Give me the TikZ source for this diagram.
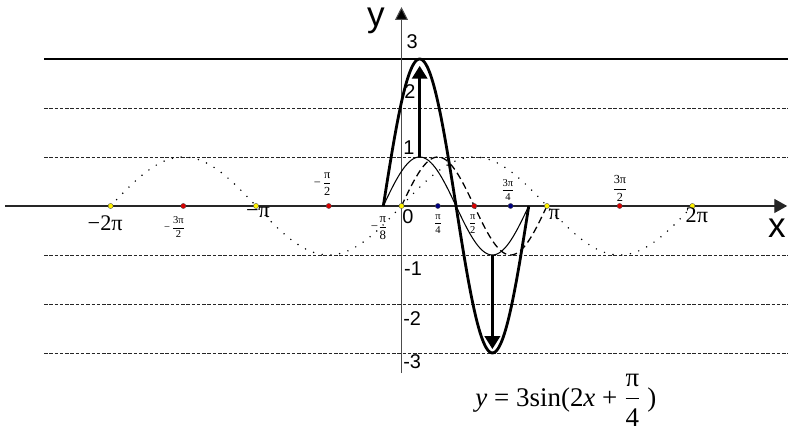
\documentclass[tikz,border=0pt]{standalone}
\usepackage{amsmath}
\usepackage{fontspec}
\setmainfont{Liberation Serif}
\newfontfamily\arial{Liberation Sans}
\usetikzlibrary{arrows.meta}

\newcommand{\pfrac}[2]{$\dfrac{\text{#1}}{\text{#2}}$}

\begin{document}
\begin{tikzpicture}[x=1.389cm,y=1.47cm,
    gridline/.style={line width=0.75pt,dash pattern=on 3pt off 1.5pt,black!85},
    numlabel/.style={font=\arial\fontsize{17}{17}\selectfont,inner sep=0pt},
    pilabel/.style={font=\fontsize{19}{19}\selectfont,inner sep=0pt},
    smallfrac/.style={font=\fontsize{9}{9}\selectfont,inner sep=0pt},
    tickdot/.style={draw=black!70,line width=0.3pt,fill=#1}]
    \useasboundingbox (-8.672,-4.633) rectangle (8.348,4.204);
    % horizontal lines
    \draw[line width=0.9pt] (-7.72,3) -- (8.348,3);
    \draw[gridline] (-7.72,2) -- (8.348,2);
    \draw[gridline] (-7.72,1) -- (8.348,1);
    \draw[gridline] (-7.72,-1) -- (8.348,-1);
    \draw[gridline] (-7.72,-2) -- (8.348,-2);
    \draw[gridline] (-7.72,-3) -- (8.348,-3);
    % axes
    \draw[line width=1pt,black!85,-{Triangle[length=11pt,width=12pt]}] (-8.56,0) -- (8.33,0);
    \draw[line width=0.9pt,black!70,-{Triangle[length=11pt,width=11pt,fill=black]}] (0,-3.41) -- (0,4.06);
    \node[font=\arial\fontsize{30}{30}\selectfont,inner sep=0pt] (xlab) at (8.11,-0.45) {x};
    \node[font=\arial\fontsize{30}{30}\selectfont,inner sep=0pt,text height=0.55em,text depth=0.2em,anchor=base] (ylab) at (-0.55,3.66) {y};
    \node[numlabel] (n3) at (0.23,3.35) {3};
    \node[numlabel] (n2) at (0.18,2.33) {2};
    \node[numlabel] (n1) at (0.16,1.20) {1};
    \node[numlabel] (n0) at (0.14,-0.22) {0};
    \node[numlabel] (m1) at (0.25,-1.27) {-1};
    \node[numlabel] (m2) at (0.23,-2.29) {-2};
    \node[numlabel] (m3) at (0.23,-3.18) {-3};
    % curves
    \draw[line width=1.4pt,line cap=round,dash pattern=on 0pt off 7.5pt,domain=-2*pi:2*pi,samples=200,smooth]
        plot (\x,{sin(\x r)});
    \draw[line width=1.1pt,dash pattern=on 6pt off 3.5pt,domain=0:pi,samples=100,smooth]
        plot (\x,{sin(2*\x r)});
    \draw[line width=0.9pt,domain=-pi/8:7*pi/8,samples=100,smooth]
        plot (\x,{sin((2*\x+pi/4) r)});
    \draw[line width=2.4pt,domain=-pi/8:7*pi/8,samples=100,smooth]
        plot (\x,{3*sin((2*\x+pi/4) r)});
    % stretching arrows
    \coordinate (top1) at ({pi/8},1);
    \coordinate (top3) at ({pi/8},2.86);
    \coordinate (bot1) at ({5*pi/8},-1);
    \coordinate (bot3) at ({5*pi/8},-2.92);
    \draw[line width=2.4pt,-{Triangle[length=11pt,width=13pt]}] (top1) -- (top3);
    \draw[line width=2.4pt,-{Triangle[length=11pt,width=13pt]}] (bot1) -- (bot3);
    % points on the x axis
    \draw[tickdot=yellow] (-2*pi,0) circle (2.2pt);
    \draw[tickdot=yellow] (-pi,0) circle (2.2pt);
    \draw[tickdot=yellow] (0,0) circle (2.2pt);
    \draw[tickdot=yellow] (pi,0) circle (2.2pt);
    \draw[tickdot=yellow] (2*pi,0) circle (2.2pt);
    \draw[tickdot=red!85!black] (-3*pi/2,0) circle (2.2pt);
    \draw[tickdot=red!85!black] (-pi/2,0) circle (2.2pt);
    \draw[tickdot=red!85!black] (pi/2,0) circle (2.2pt);
    \draw[tickdot=red!85!black] (3*pi/2,0) circle (2.2pt);
    \draw[tickdot=blue!50!black] (pi/4,0) circle (2.2pt);
    \draw[tickdot=blue!50!black] (3*pi/4,0) circle (2.2pt);
    % labels of the points
    \node[pilabel] (lm2pi) at (-6.40,-0.35) {−2π};
    \node[smallfrac] (lm3pi2) at (-4.90,-0.43) {−\,\pfrac{3π}{2}};
    \node[pilabel] (lmpi) at (-3.10,-0.14) {−π};
    \node[font=\fontsize{10.5}{10}\selectfont,inner sep=0pt] (lmpi2) at (-1.70,0.45) {−\,\pfrac{π}{2}};
    \node[font=\fontsize{11}{10}\selectfont,inner sep=0pt] (lmpi8) at (-0.48,-0.45) {−\pfrac{π}{8}};
    \node[smallfrac] (lpi4) at (0.79,-0.36) {\pfrac{π}{4}};
    \node[smallfrac] (lpi2) at (1.54,-0.36) {\pfrac{π}{2}};
    \node[smallfrac] (l3pi4) at (2.30,0.33) {\pfrac{3π}{4}};
    \node[pilabel] (lpi) at (3.30,-0.18) {π};
    \node[font=\fontsize{10.5}{10}\selectfont,inner sep=0pt] (l3pi2) at (4.72,0.36) {\pfrac{3π}{2}};
    \node[pilabel] (l2pi) at (6.38,-0.18) {2π};
    % formula
    \node[font=\fontsize{23}{23}\selectfont,inner sep=0pt] (formula) at (3.55,-3.96)
        {\textit{y} = 3sin(2\textit{x} + \pfrac{π}{4} )};
\end{tikzpicture}
\end{document}
